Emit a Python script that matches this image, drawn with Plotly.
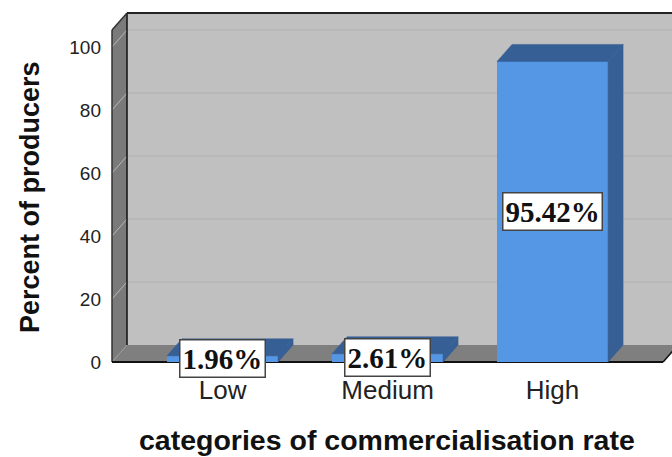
import plotly.graph_objects as go

# ---- data -------------------------------------------------------------
categories = ["Low", "Medium", "High"]
percent = [1.96, 2.61, 95.42]
y_ticks = [0, 20, 40, 60, 80, 100]

# ---- 3D frame geometry (category units / percent units) ----------------
W, H = 672, 457
X_LO, X_HI = -0.67, 2.67      # front edge of the floor
Y_TOP = 105.4                 # height of the side wall
DX, DY = 0.091, 5.4           # depth offset towards the back wall
BAR_W = 0.673

PX_X, PX_Y = 165.0, 3.15      # pixels per unit
ML, MT = 110, 12
FLOOR_PX = 362                # pixel row of value 0 on the front plane
PLOT_BOTTOM = 364
PW = W - ML
PH = PLOT_BOTTOM - MT
x0 = X_LO - (112 - ML) / PX_X
x1 = x0 + PW / PX_X
y0 = -(PLOT_BOTTOM - FLOOR_PX) / PX_Y
y1 = y0 + PH / PX_Y
XR = x1 + 1.0                 # walls run off the right edge

WALL = "#c0c0c0"
SIDE = "#7a7a7a"
FLOOR = "#7f7f7f"
BAR_FRONT = "#5596e5"
BAR_DARK = "#365f95"


def poly(pts, fill, line_color=None, width=0, layer="below"):
    path = "M " + " L ".join(f"{x},{y}" for x, y in pts) + " Z"
    return dict(type="path", path=path, xref="x", yref="y", fillcolor=fill,
                line=dict(color=line_color or fill, width=width), layer=layer)


def seg(xa, ya, xb, yb, color, width=1):
    return dict(type="line", x0=xa, y0=ya, x1=xb, y1=yb, xref="x", yref="y",
                line=dict(color=color, width=width), layer="below")


shapes = [
    poly([(X_LO + DX, DY), (XR, DY), (XR, Y_TOP + DY), (X_LO + DX, Y_TOP + DY)], WALL),
    poly([(X_LO, 0), (X_HI, 0), (X_HI + DX, DY), (X_LO + DX, DY)], FLOOR),
    poly([(X_LO, 0), (X_LO, Y_TOP), (X_LO + DX, Y_TOP + DY), (X_LO + DX, DY)], SIDE),
]
for v in y_ticks[1:]:
    shapes.append(seg(X_LO + DX, v + DY, XR, v + DY, "#b0b0b0", 1))
    shapes.append(seg(X_LO, v, X_LO + DX, v + DY, "#b8b8b8", 1))
shapes.append(seg(X_LO, 0, X_LO + DX, DY, "#9a9a9a", 1))
shapes += [
    seg(X_LO + DX, Y_TOP + DY, XR, Y_TOP + DY, "#222222", 2),
    seg(X_LO + DX, DY, X_LO + DX, Y_TOP + DY, "#111111", 1.5),
    seg(X_LO, 0, X_LO, Y_TOP, "#333333", 1.5),
    seg(X_LO, Y_TOP, X_LO + DX, Y_TOP + DY, "#333333", 1.5),
    seg(X_LO, 0, X_HI, 0, "#111111", 2),
    seg(X_HI, 0, X_HI + DX, DY, "#111111", 1.5),
]

fig = go.Figure()

# top and side faces of each bar
for i, v in enumerate(percent):
    left, right = i - BAR_W / 2, i + BAR_W / 2
    top = [left, right, right + DX, left + DX, left]
    top_y = [v, v, v + DY, v + DY, v]
    side = [right, right + DX, right + DX, right, right]
    side_y = [0, DY, v + DY, v, 0]
    for xs, ys in ((top, top_y), (side, side_y)):
        fig.add_trace(go.Scatter(x=xs, y=ys, mode="lines", fill="toself",
                                 fillcolor=BAR_DARK,
                                 line=dict(color=BAR_DARK, width=0.5),
                                 hoverinfo="skip", showlegend=False))

# front faces
fig.add_trace(go.Bar(x=list(range(len(categories))), y=percent, width=BAR_W,
                     marker=dict(color=BAR_FRONT, line=dict(width=0)),
                     showlegend=False))

annotations = []
for i, v in enumerate(percent):
    annotations.append(dict(
        x=i, y=v / 2, xref="x", yref="y", text=f"{v:.2f}%", showarrow=False,
        font=dict(family="Liberation Serif", size=29, color="#111111",
                  weight="bold"),
        bgcolor="white", bordercolor="#444444", borderwidth=1.5, borderpad=2,
        xanchor="center", yanchor="middle"))


def paper_x(px):
    return (px - ML) / PW


def paper_y(py):
    return (PLOT_BOTTOM - py) / PH


annotations.append(dict(
    x=paper_x(30), y=paper_y(197), xref="paper", yref="paper",
    text="Percent of producers", textangle=-90, showarrow=False,
    font=dict(family="Liberation Sans", size=27, color="#111111",
              weight="bold"),
    xanchor="center", yanchor="middle"))
annotations.append(dict(
    x=paper_x(387), y=paper_y(440), xref="paper", yref="paper",
    text="categories of commercialisation rate", showarrow=False,
    font=dict(family="Liberation Sans", size=28.5, color="#111111",
              weight="bold"),
    xanchor="center", yanchor="middle"))

fig.update_layout(
    width=W, height=H,
    margin=dict(l=ML, r=0, t=MT, b=H - PLOT_BOTTOM, pad=0),
    paper_bgcolor="white", plot_bgcolor="white",
    shapes=shapes, annotations=annotations, bargap=0,
    xaxis=dict(range=[x0, x1], tickvals=list(range(len(categories))),
               ticktext=categories, showgrid=False, zeroline=False,
               showline=False, ticks="", ticklabelstandoff=8,
               tickfont=dict(family="Liberation Sans", size=26,
                             color="#222222")),
    yaxis=dict(range=[y0, y1], tickvals=y_ticks, showgrid=False,
               zeroline=False, showline=False, ticks="",
               ticklabelstandoff=8,
               tickfont=dict(family="Liberation Sans", size=19,
                             color="#222222")),
)

fig.write_html("out.html")
